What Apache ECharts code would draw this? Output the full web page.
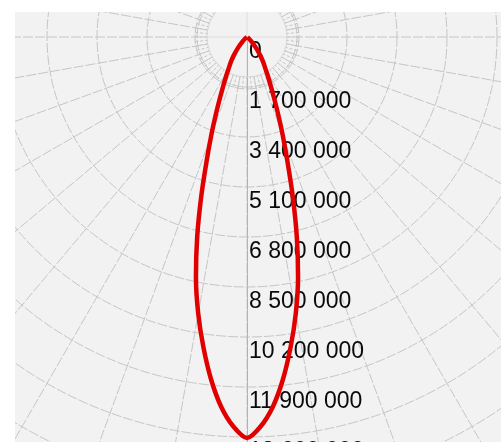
<!DOCTYPE html>
<html>
<head>
<meta charset="utf-8">
<script src="https://cdn.jsdelivr.net/npm/echarts@6/dist/echarts.min.js"></script>
<style>
html,body{margin:0;padding:0;background:#ffffff;}
#wrap{position:relative;width:501px;height:442px;overflow:hidden;background:#fff;}
#chart{position:absolute;left:15px;top:12px;width:486px;height:430px;background:#f2f2f2;}
</style>
</head>
<body>
<div id="wrap"><div id="chart"></div></div>
<script>
// Luminous intensity (cd) vs angle from the downward axis (degrees)
const angles = [0, 2, 4, 6, 8, 10, 12, 14, 16, 18, 20, 22, 24, 26, 28, 30, 33, 36, 40, 45, 50, 60, 90];
const intensity = [13630000, 13250000, 12600000, 11700000, 10650000, 9550000, 8350000, 7000000, 5650000, 4450000, 3550000, 2820000, 2250000, 1830000, 1520000, 1260000, 1000000, 750000, 450000, 200000, 80000, 20000, 0];
// radius tick values
const radiusMax = 17000000;
const radiusStep = 1700000;

function fmt(v){
  return String(Math.round(v)).replace(/\B(?=(\d{3})+(?!\d))/g, ' ');
}

// symmetric curve: from 90 down to 0, then up the other side to 270
const data = [];
for (let i = angles.length - 1; i >= 0; i--) data.push([intensity[i], angles[i]]);
for (let i = 1; i < angles.length; i++) data.push([intensity[i], 360 - angles[i]]);

const gridColor = '#c6c6c6';
const chart = echarts.init(document.getElementById('chart'));
const cx = 232, cy = 25;
chart.setOption({
  animation: false,
  backgroundColor: '#f2f2f2',
  polar: [
    {center: [cx, cy], radius: 500},
    {center: [cx, cy], radius: 52},
    {center: [cx, cy], radius: 40}
  ],
  angleAxis: [
    {polarIndex: 0, type: 'value', min: 0, max: 360, interval: 10, startAngle: 270, z: 0,
     axisLine: {show: false}, axisTick: {show: false}, axisLabel: {show: false},
     splitLine: {show: true, lineStyle: {color: gridColor, width: 1, type: [10, 2]}}},
    {polarIndex: 1, type: 'value', min: 0, max: 360, interval: 5, startAngle: 270, z: 0,
     axisLine: {show: true, lineStyle: {color: gridColor, width: 1, type: [10, 2]}}, axisTick: {show: false}, axisLabel: {show: false},
     splitLine: {show: true, lineStyle: {color: gridColor, width: 1, type: [3, 2]}}},
    {polarIndex: 2, type: 'value', min: 0, max: 360, interval: 90, startAngle: 270, z: 1.5,
     axisLine: {show: true, lineStyle: {color: '#d6d6d6', width: 1}}, axisTick: {show: false}, axisLabel: {show: false},
     splitLine: {show: true, lineStyle: {color: '#dedede', width: 1}}}
  ],
  radiusAxis: [
    {polarIndex: 0, type: 'value', min: 0, max: radiusMax, interval: radiusStep, z: 1.5,
     axisLine: {show: true, lineStyle: {color: '#b4b4b4', width: 1}},
     axisTick: {show: false},
     splitLine: {show: true, lineStyle: {color: gridColor, width: 1, type: [10, 2]}},
     axisLabel: {show: true, formatter: fmt, color: '#0a0a0a', fontFamily: 'Liberation Sans, Arial, sans-serif',
                 fontSize: 23, align: 'left', verticalAlign: 'top', margin: 2, padding: [3, 0, 0, 0]}},
    {polarIndex: 1, type: 'value', min: 0, max: 1, show: false},
    {polarIndex: 2, type: 'value', min: 0, max: 1, show: false}
  ],
  graphic: [{
    type: 'circle', shape: {cx: cx, cy: cy, r: 40}, style: {fill: '#f2f2f2'}, z: 1, silent: true
  }],
  series: [{
    type: 'line', coordinateSystem: 'polar', polarIndex: 0, data: data,
    smooth: 0.3, symbol: 'none', z: 2,
    lineStyle: {color: '#e00000', width: 4.5}
  }]
});
</script>
</body>
</html>
